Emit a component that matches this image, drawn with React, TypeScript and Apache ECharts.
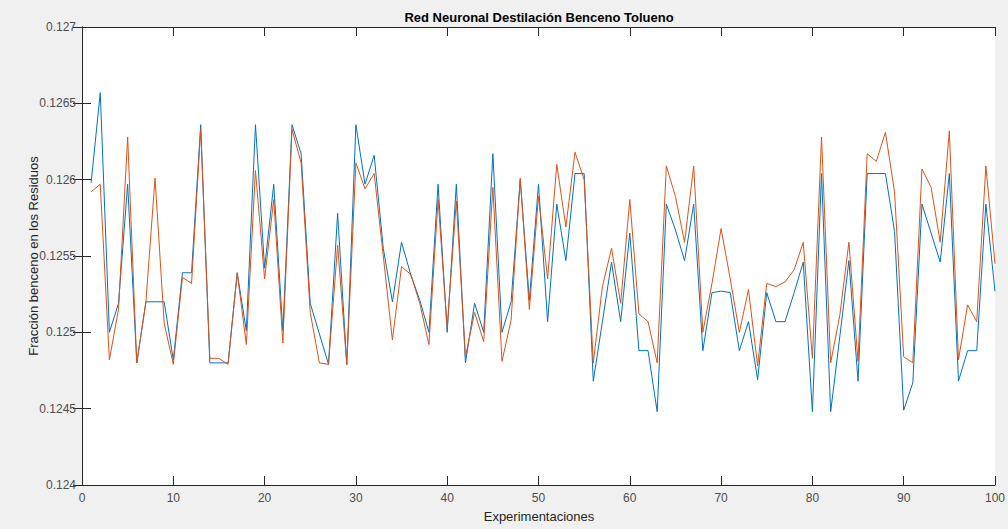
import React, { useEffect, useRef } from "react";
import * as echarts from "echarts";

const titleText = "Red Neuronal Destilación Benceno Tolueno";
const xAxisTitle = "Experimentaciones";
const yAxisTitle = "Fracción benceno en los Residuos";

const experiments = [
  1, 2, 3, 4, 5, 6, 7, 8, 9, 10, 11, 12, 13, 14, 15, 16, 17, 18, 19, 20,
  21, 22, 23, 24, 25, 26, 27, 28, 29, 30, 31, 32, 33, 34, 35, 36, 37, 38, 39, 40,
  41, 42, 43, 44, 45, 46, 47, 48, 49, 50, 51, 52, 53, 54, 55, 56, 57, 58, 59, 60,
  61, 62, 63, 64, 65, 66, 67, 68, 69, 70, 71, 72, 73, 74, 75, 76, 77, 78, 79, 80,
  81, 82, 83, 84, 85, 86, 87, 88, 89, 90, 91, 92, 93, 94, 95, 96, 97, 98, 99, 100,
];

const blueSeries = [
  0.12598, 0.12657, 0.125, 0.12519, 0.12597, 0.1248, 0.1252, 0.1252, 0.1252, 0.12482,
  0.12539, 0.12539, 0.12636, 0.1248, 0.1248, 0.1248, 0.12539, 0.12501, 0.12636, 0.12542,
  0.12597, 0.12501, 0.12636, 0.12617, 0.12519, 0.12499, 0.12479, 0.12578, 0.12479, 0.12636,
  0.12597, 0.12616, 0.12555, 0.1252, 0.12559, 0.12538, 0.12521, 0.125, 0.12597, 0.125,
  0.12597, 0.1248, 0.12519, 0.125, 0.12617, 0.125, 0.1252, 0.126, 0.12521, 0.12597,
  0.12507, 0.12584, 0.12547, 0.12604, 0.12604, 0.12468, 0.12507, 0.12546, 0.12507, 0.12565,
  0.12488, 0.12488, 0.12448, 0.12584, 0.12567, 0.12547, 0.12584, 0.12488, 0.12526, 0.12527,
  0.12526, 0.12488, 0.12507, 0.12469, 0.12526, 0.12507, 0.12507, 0.12526, 0.12546, 0.12448,
  0.12604, 0.12448, 0.12497, 0.12547, 0.12468, 0.12604, 0.12604, 0.12604, 0.12566, 0.12449,
  0.12467, 0.12584, 0.12565, 0.12546, 0.12604, 0.12468, 0.12488, 0.12488, 0.12584, 0.12527,
];

const orangeSeries = [
  0.12592, 0.12597, 0.12482, 0.12515, 0.12628, 0.1248, 0.1252, 0.12601, 0.12506, 0.12479,
  0.12536, 0.12532, 0.12633, 0.12483, 0.12483, 0.12479, 0.12539, 0.12492, 0.12606, 0.12535,
  0.12587, 0.12493, 0.12633, 0.12611, 0.12513, 0.1248, 0.12479, 0.12557, 0.12479, 0.12611,
  0.12594, 0.12604, 0.1255, 0.12495, 0.12543, 0.12538, 0.12519, 0.12492, 0.12587, 0.12503,
  0.12586, 0.12484, 0.12513, 0.12494, 0.12595, 0.12481, 0.12508, 0.12601, 0.12515, 0.12589,
  0.12535, 0.1261, 0.12569, 0.12618, 0.126, 0.1248, 0.1253, 0.12555, 0.12519, 0.12587,
  0.12512, 0.12507, 0.1248, 0.12609, 0.12589, 0.12559, 0.12609, 0.125, 0.12532, 0.12568,
  0.12535, 0.125, 0.12528, 0.12478, 0.12532, 0.1253, 0.12533, 0.12541, 0.12559, 0.12483,
  0.12628, 0.1248, 0.12511, 0.12559, 0.12481, 0.12617, 0.12612, 0.12631, 0.12592, 0.12484,
  0.1248, 0.12607, 0.12595, 0.12559, 0.12632, 0.12482, 0.12518, 0.12507, 0.12609, 0.12545,
];

const FONT = "'Liberation Sans', Arial, Helvetica, sans-serif";
const AXIS_COLOR = "#262626";
const LABEL_COLOR = "#4d4d4d";

export default function App() {
  const ref = useRef<HTMLDivElement>(null);

  useEffect(() => {
    document.body.style.margin = "0";
    if (!ref.current) return;
    const chart = echarts.init(ref.current, null, { renderer: "svg" });

    const axisLine = { show: true, lineStyle: { color: AXIS_COLOR, width: 1 } };
    const axisTick = { show: true, inside: true, length: 9, lineStyle: { color: AXIS_COLOR, width: 1 } };

    chart.setOption({
      animation: false,
      backgroundColor: "#f0f0f0",
      grid: {
        left: 82,
        right: 12,
        top: 27,
        bottom: 44,
        show: true,
        backgroundColor: "#ffffff",
        borderWidth: 0,
      },
      xAxis: [
        {
          type: "value",
          min: 0,
          max: 100,
          interval: 10,
          position: "bottom",
          axisLine,
          axisTick,
          splitLine: { show: false },
          axisLabel: { color: LABEL_COLOR, fontSize: 12, fontFamily: FONT, margin: 7 },
        },
        {
          type: "value",
          min: 0,
          max: 100,
          interval: 10,
          position: "top",
          axisLine,
          axisTick,
          splitLine: { show: false },
          axisLabel: { show: false },
        },
      ],
      yAxis: [
        {
          type: "value",
          min: 0.124,
          max: 0.127,
          interval: 0.0005,
          position: "left",
          axisLine,
          axisTick,
          splitLine: { show: false },
          axisLabel: {
            color: LABEL_COLOR,
            fontSize: 12,
            fontFamily: FONT,
            margin: 6,
            formatter: (v: number) => String(parseFloat(v.toFixed(4))),
          },
        },
        {
          type: "value",
          min: 0.124,
          max: 0.127,
          interval: 0.0005,
          position: "right",
          axisLine,
          axisTick,
          splitLine: { show: false },
          axisLabel: { show: false },
        },
      ],
      series: [
        {
          type: "line",
          name: "Real",
          xAxisIndex: 0,
          yAxisIndex: 0,
          data: experiments.map((x, i) => [x, blueSeries[i]]),
          showSymbol: false,
          symbol: "none",
          lineStyle: { color: "#0072BD", width: 1 },
          itemStyle: { color: "#0072BD" },
        },
        {
          type: "line",
          name: "Red",
          xAxisIndex: 0,
          yAxisIndex: 0,
          data: experiments.map((x, i) => [x, orangeSeries[i]]),
          showSymbol: false,
          symbol: "none",
          lineStyle: { color: "#D95319", width: 1 },
          itemStyle: { color: "#D95319" },
        },
      ],
      graphic: [
        {
          type: "text",
          x: 539,
          y: 17,
          style: {
            text: titleText,
            font: `bold 13px ${FONT}`,
            fill: "#000000",
            textAlign: "center",
            textVerticalAlign: "middle",
          },
        },
        {
          type: "text",
          x: 539,
          y: 516,
          style: {
            text: xAxisTitle,
            font: `13px ${FONT}`,
            fill: "#262626",
            textAlign: "center",
            textVerticalAlign: "middle",
          },
        },
        {
          type: "text",
          x: 33,
          y: 256,
          rotation: Math.PI / 2,
          style: {
            text: yAxisTitle,
            font: `13px ${FONT}`,
            fill: "#262626",
            textAlign: "center",
            textVerticalAlign: "middle",
          },
        },
      ],
    });

    return () => chart.dispose();
  }, []);

  return <div ref={ref} style={{ width: 1008, height: 529 }} />;
}
